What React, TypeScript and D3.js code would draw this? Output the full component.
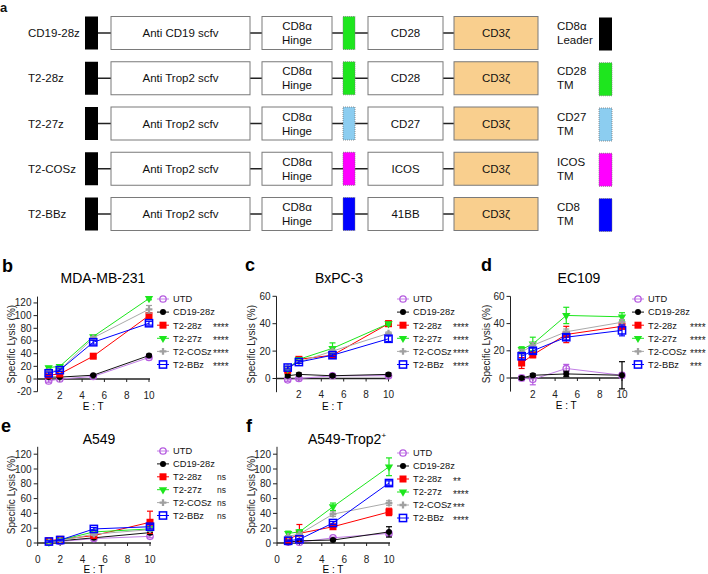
import React from "react";
import * as d3 from "d3";

// ---------- Panel a data ----------
const CONSTRUCTS = ["CD19-28z", "T2-28z", "T2-27z", "T2-COSz", "T2-BBz"];
const SCFV = ["Anti CD19 scfv", "Anti Trop2 scfv", "Anti Trop2 scfv", "Anti Trop2 scfv", "Anti Trop2 scfv"];
const COSTIM = ["CD28", "CD28", "CD27", "ICOS", "41BB"];
const TM_COLORS = ["#1ee61e", "#1ee61e", "#8ccdf0", "#ff00ff", "#0000ff"];
const KEY_LABELS = [["CD8α", "Leader"], ["CD28", "TM"], ["CD27", "TM"], ["ICOS", "TM"], ["CD8", "TM"]];
const KEY_COLORS = ["#000000", "#1ee61e", "#8ccdf0", "#ff00ff", "#0000ff"];

// ---------- Lysis data ----------
const ET = [1, 2, 5, 10];
const SERIES = ["UTD", "CD19-28z", "T2-28z", "T2-27z", "T2-COSz", "T2-BBz"];

const mdaMean = [
  [-3, 0, 4, 34],
  [3, 3, 6, 37],
  [6, 8, 36, 100],
  [18, 20, 67, 127],
  [12, 14, 65, 110],
  [9, 14, 58, 88],
];
const mdaErr = [
  [2, 1, 1, 2],
  [1, 1, 1, 2],
  [2, 1, 2, 4],
  [2, 2, 2, 2],
  [2, 2, 2, 6],
  [2, 2, 3, 3],
];
const mdaSig = ["", "", "****", "****", "****", "****"];

const bxMean = [
  [-1, 0, 2, 2],
  [2, 3, 2, 3],
  [6, 14, 17, 40],
  [7, 14, 22, 40],
  [8, 12, 20, 33],
  [8, 12, 17, 29],
];
const bxErr = [
  [1, 1, 1, 1],
  [1, 1, 1, 1],
  [1, 1, 2, 2],
  [1, 1, 4, 1],
  [1, 1, 1, 1],
  [1, 1, 1, 2],
];
const bxSig = ["", "", "****", "****", "****", "****"];

const ecMean = [
  [0, -1, 7, 2],
  [0, 2, 3, 2],
  [11, 17, 32, 38],
  [21, 25, 46, 45],
  [19, 24, 34, 41],
  [16, 20, 30, 35],
];
const ecErr = [
  [2, 4, 3, 2],
  [1, 1, 2, 10],
  [4, 2, 6, 2],
  [2, 5, 6, 3],
  [2, 2, 2, 2],
  [2, 2, 2, 4],
];
const ecSig = ["", "", "****", "****", "****", "***"];

const a549Mean = [
  [1, 2, 6, 9],
  [2, 3, 7, 14],
  [3, 5, 10, 28],
  [1, 4, 15, 19],
  [2, 3, 12, 18],
  [2, 4, 19, 22],
];
const a549Err = [
  [1, 1, 2, 2],
  [1, 1, 1, 2],
  [1, 1, 2, 15],
  [1, 1, 2, 3],
  [1, 1, 2, 2],
  [1, 1, 2, 3],
];
const a549Sig = ["", "", "ns", "ns", "ns", "ns"];

const trop2Mean = [
  [1, 1, 7, 13],
  [1, 3, 4, 15],
  [4, 13, 22, 42],
  [13, 15, 49, 103],
  [9, 12, 39, 54],
  [3, 5, 27, 81],
];
const trop2Err = [
  [1, 1, 1, 3],
  [1, 1, 1, 7],
  [1, 12, 2, 5],
  [3, 3, 5, 12],
  [1, 1, 3, 3],
  [1, 1, 2, 3],
];
const trop2Sig = ["", "", "**", "****", "***", "****"];

const FONT = "'Liberation Sans', Arial, Helvetica, sans-serif";

const SERIES_STYLE = [
  { color: "#b65ce0", line: "#c27ee6", marker: "openCircle" },
  { color: "#000000", line: "#111111", marker: "circle" },
  { color: "#ff0000", line: "#ff0000", marker: "square" },
  { color: "#1de61d", line: "#1de61d", marker: "triangle" },
  { color: "#a0a0a0", line: "#aaaaaa", marker: "cross" },
  { color: "#0000ff", line: "#0000ff", marker: "openSquare" },
];

function Marker({ type, color, x, y }: { type: string; color: string; x: number; y: number }) {
  if (type === "openCircle")
    return <circle cx={x} cy={y} r={3.2} fill="white" fillOpacity={0} stroke={color} strokeWidth={1.3} />;
  if (type === "circle") return <circle cx={x} cy={y} r={3} fill={color} />;
  if (type === "square") return <rect x={x - 3.5} y={y - 3.5} width={7} height={7} fill={color} />;
  if (type === "openSquare")
    return <rect x={x - 3.6} y={y - 3.6} width={7.2} height={7.2} fill="none" stroke={color} strokeWidth={1.5} />;
  if (type === "triangle") {
    const p = d3.symbol().type(d3.symbolTriangle).size(30)();
    return <path d={p || ""} transform={`translate(${x},${y}) rotate(180)`} fill={color} />;
  }
  const p = d3.symbol().type(d3.symbolCross).size(26)();
  return <path d={p || ""} transform={`translate(${x},${y})`} fill={color} />;
}

type Cfg = {
  letter: string;
  letterX: number;
  letterY: number;
  title: string;
  sup?: string;
  titleX: number;
  titleY: number;
  mean: number[][];
  err: number[][];
  sig: string[];
  x0: number;
  x10: number;
  yDomain: [number, number];
  yRange: [number, number];
  yTicks: number[];
  xTicks: number[];
  yLabelX: number;
  legX: number;
  legY: number;
  legStep: number;
  sigX: number;
  etDy: number;
};

const PANELS: Cfg[] = [
  {
    letter: "b", letterX: 2, letterY: 272, title: "MDA-MB-231", titleX: 103, titleY: 283,
    mean: mdaMean, err: mdaErr, sig: mdaSig,
    x0: 37.5, x10: 149, yDomain: [-20, 130], yRange: [391.7, 296.6],
    yTicks: [-20, 0, 20, 40, 60, 80, 100, 120], xTicks: [2, 4, 6, 8, 10],
    yLabelX: 15, legX: 163, legY: 299, legStep: 13.1, sigX: 213, etDy: 31,
  },
  {
    letter: "c", letterX: 245, letterY: 271, title: "BxPC-3", titleX: 339, titleY: 283,
    mean: bxMean, err: bxErr, sig: bxSig,
    x0: 276.5, x10: 388.5, yDomain: [-10, 60], yRange: [392.2, 296.3],
    yTicks: [0, 20, 40, 60], xTicks: [2, 4, 6, 8, 10],
    yLabelX: 255, legX: 403, legY: 299, legStep: 13.1, sigX: 453, etDy: 31,
  },
  {
    letter: "d", letterX: 481, letterY: 271, title: "EC109", titleX: 579, titleY: 283,
    mean: ecMean, err: ecErr, sig: ecSig,
    x0: 510.5, x10: 622, yDomain: [-10, 60], yRange: [391.6, 296.4],
    yTicks: [0, 20, 40, 60], xTicks: [2, 4, 6, 8, 10],
    yLabelX: 490, legX: 638, legY: 299, legStep: 13.1, sigX: 690, etDy: 31,
  },
  {
    letter: "e", letterX: 1, letterY: 432, title: "A549", titleX: 99, titleY: 444,
    mean: a549Mean, err: a549Err, sig: a549Sig,
    x0: 37.7, x10: 150, yDomain: [0, 130], yRange: [543, 446.8],
    yTicks: [0, 20, 40, 60, 80, 100, 120], xTicks: [0, 2, 4, 6, 8, 10],
    yLabelX: 15, legX: 163, legY: 451, legStep: 12.9, sigX: 217, etDy: 30,
  },
  {
    letter: "f", letterX: 246, letterY: 432, title: "A549-Trop2", sup: "+", titleX: 347, titleY: 444,
    mean: trop2Mean, err: trop2Err, sig: trop2Sig,
    x0: 277, x10: 389, yDomain: [0, 130], yRange: [543, 446.8],
    yTicks: [0, 20, 40, 60, 80, 100, 120], xTicks: [0, 2, 4, 6, 8, 10],
    yLabelX: 255, legX: 403, legY: 453, legStep: 13, sigX: 453, etDy: 30,
  },
];

function Panel({ cfg }: { cfg: Cfg }) {
  const x = d3.scaleLinear().domain([0, 10]).range([cfg.x0, cfg.x10]);
  const y = d3.scaleLinear().domain(cfg.yDomain).range(cfg.yRange);
  const line = d3
    .line<number>()
    .x((_, i) => x(ET[i]))
    .y((v) => y(v));
  const y0 = y(0);
  const axisColor = "#222";
  return (
    <g fontFamily={FONT}>
      <text x={cfg.letterX} y={cfg.letterY} fontSize={18} fontWeight="bold">
        {cfg.letter}
      </text>
      <text x={cfg.titleX} y={cfg.titleY} fontSize={14} textAnchor="middle">
        {cfg.title}
        {cfg.sup ? (
          <tspan fontSize={8} dy={-6}>
            {cfg.sup}
          </tspan>
        ) : null}
      </text>
      {/* y axis */}
      <line x1={x(0)} x2={x(0)} y1={y(cfg.yDomain[0])} y2={y(cfg.yDomain[1])} stroke={axisColor} strokeWidth={1} />
      {cfg.yTicks.map((t) => (
        <g key={"yt" + t}>
          <line x1={x(0) - 4} x2={x(0)} y1={y(t)} y2={y(t)} stroke={axisColor} strokeWidth={1} />
          <text x={x(0) - 6} y={y(t) + 3.5} fontSize={10} textAnchor="end" fill="#222">
            {t}
          </text>
        </g>
      ))}
      {/* x axis */}
      <line x1={x(0)} x2={x(10) + 1} y1={y0} y2={y0} stroke={axisColor} strokeWidth={1.3} />
      {cfg.xTicks.map((t) => (
        <g key={"xt" + t}>
          <line x1={x(t)} x2={x(t)} y1={y0} y2={y0 + 3} stroke={axisColor} strokeWidth={1} />
          <text x={x(t)} y={y0 + 19.5} fontSize={10} textAnchor="middle" fill="#222">
            {t}
          </text>
        </g>
      ))}
      <text x={(x(0) + x(10)) / 2} y={y0 + cfg.etDy} fontSize={10} textAnchor="middle">
        E : T
      </text>
      <text
        transform={`translate(${cfg.yLabelX},${(y(cfg.yDomain[0]) + y(cfg.yDomain[1])) / 2}) rotate(-90)`}
        fontSize={10}
        textAnchor="middle"
        fill="#222"
      >
        Specific Lysis (%)
      </text>
      {/* series */}
      {cfg.mean.map((vals, si) => {
        const st = SERIES_STYLE[si];
        return (
          <g key={"s" + si}>
            <path d={line(vals) || ""} fill="none" stroke={st.line} strokeWidth={1} />
            {vals.map((v, i) => {
              const e = cfg.err[si][i];
              const px = x(ET[i]);
              return (
                <g key={i}>
                  <line x1={px} x2={px} y1={y(v - e)} y2={y(v + e)} stroke={st.color} strokeWidth={1.2} />
                  <line x1={px - 3} x2={px + 3} y1={y(v + e)} y2={y(v + e)} stroke={st.color} strokeWidth={1.2} />
                  <line x1={px - 3} x2={px + 3} y1={y(v - e)} y2={y(v - e)} stroke={st.color} strokeWidth={1.2} />
                  <Marker type={st.marker} color={st.color} x={px} y={y(v)} />
                </g>
              );
            })}
          </g>
        );
      })}
      {/* legend */}
      {SERIES.map((name, si) => {
        const st = SERIES_STYLE[si];
        const ly = cfg.legY + si * cfg.legStep;
        const s = cfg.sig[si];
        return (
          <g key={"l" + si}>
            <line x1={cfg.legX - 6} x2={cfg.legX + 6} y1={ly} y2={ly} stroke={st.line} strokeWidth={1} />
            <Marker type={st.marker} color={st.color} x={cfg.legX} y={ly} />
            <text x={cfg.legX + 10} y={ly + 3.3} fontSize={9.3} fill="#111">
              {name}
            </text>
            {s ? (
              <text x={cfg.sigX} y={ly + (s === "ns" ? 3 : 5.8)} fontSize={s === "ns" ? 8.5 : 10} fill="#222">
                {s}
              </text>
            ) : null}
          </g>
        );
      })}
    </g>
  );
}

function PanelA() {
  const rowY = d3.scalePoint<string>().domain(CONSTRUCTS).range([33, 214]);
  const H = 33;
  const boxStroke = "#7a7a7a";
  const fs = 11.5;
  return (
    <g fontFamily={FONT} fill="#111">
      <text x={0} y={12} fontSize={13} fontWeight="bold">
        a
      </text>
      {CONSTRUCTS.map((c, i) => {
        const cy = rowY(c) as number;
        const top = cy - H / 2;
        return (
          <g key={c}>
            <text x={28} y={cy + 4} fontSize={fs}>
              {c}
            </text>
            <line x1={98} x2={454} y1={cy} y2={cy} stroke="#222" strokeWidth={1.4} />
            <rect x={85} y={top} width={13} height={H} fill="#000" />
            <rect x={111} y={top} width={139} height={H} fill="#fff" stroke={boxStroke} strokeWidth={1} />
            <text x={180.5} y={cy + 4} fontSize={fs} textAnchor="middle">
              {SCFV[i]}
            </text>
            <rect x={262} y={top} width={70} height={H} fill="#fff" stroke={boxStroke} strokeWidth={1} />
            <text x={297} y={cy - 3} fontSize={fs} textAnchor="middle">
              CD8α
            </text>
            <text x={297} y={cy + 11} fontSize={fs} textAnchor="middle">
              Hinge
            </text>
            <rect x={343} y={top} width={12} height={H} fill={TM_COLORS[i]} stroke="#777" strokeWidth={0.8} strokeDasharray="1,1" />
            <rect x={368} y={top} width={75} height={H} fill="#fff" stroke={boxStroke} strokeWidth={1} />
            <text x={405.5} y={cy + 4} fontSize={fs} textAnchor="middle">
              {COSTIM[i]}
            </text>
            <rect x={454} y={top} width={84} height={H} fill="#f9cf8e" stroke={boxStroke} strokeWidth={1} />
            <text x={496} y={cy + 4} fontSize={fs} textAnchor="middle">
              CD3ζ
            </text>
            <text x={557} y={cy - 3} fontSize={fs}>
              {KEY_LABELS[i][0]}
            </text>
            <text x={557} y={cy + 11} fontSize={fs}>
              {KEY_LABELS[i][1]}
            </text>
            <rect
              x={599}
              y={top + 1}
              width={13}
              height={H}
              fill={KEY_COLORS[i]}
              stroke={i === 0 ? "none" : "#777"}
              strokeWidth={0.8}
              strokeDasharray="1,1"
            />
          </g>
        );
      })}
    </g>
  );
}

export default function App() {
  return (
    <svg
      width={708}
      height={574}
      viewBox="0 0 708 574"
      style={{ position: "absolute", left: 0, top: 0, background: "#fff" }}
    >
      <rect width={708} height={574} fill="#fff" />
      <PanelA />
      {PANELS.map((p) => (
        <Panel key={p.letter} cfg={p} />
      ))}
    </svg>
  );
}
